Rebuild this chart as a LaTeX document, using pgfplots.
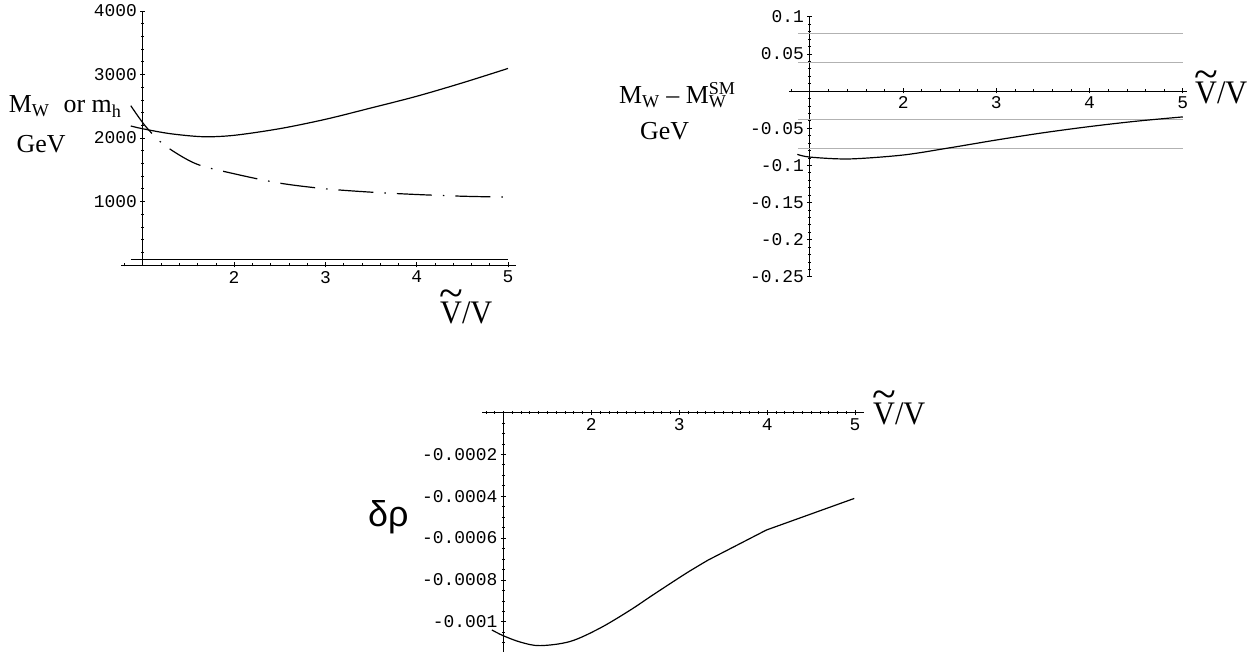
\documentclass[border=0pt]{standalone}
\usepackage{fontspec}
\setmainfont{Liberation Serif}
\setsansfont{Liberation Sans}
\setmonofont{Liberation Mono}
\usepackage{pgfplots}
\pgfplotsset{compat=1.18}

% V with a wide tilde on top, slightly narrowed like the original
\newcommand{\vt}{\leavevmode\rlap{\raisebox{0.47em}{\makebox[0.722em]{\scalebox{1.45}[1.3]{\textasciitilde}}}}V}
\newcommand{\ratio}{\scalebox{0.92}[1]{\fontsize{33}{36}\selectfont\vt/V}}
\newcommand{\lab}{\fontsize{26}{30}\selectfont}

\pgfplotsset{
  mma/.style={
    scale only axis, anchor=south west,
    axis lines=middle,
    axis line style={-, line width=0.9bp},
    enlargelimits=false, clip=false,
    scaled ticks=false,
    x coord trafo/.code={\pgfmathparse{##1-1}},
    x coord inv trafo/.code={\pgfmathparse{##1+1}},
    xtick={2,3,4,5}, xticklabels={2,3,4,5},
    tick label style={font=\fontsize{18}{18}\ttfamily},
    tick align=center,
    major tick length=5bp, minor tick length=3bp,
    every tick/.style={black, line width=0.6bp},
    every axis plot/.append style={black, line width=1.2bp},
  },
}

\begin{document}
\begin{tikzpicture}
\path[use as bounding box] (0,0) rectangle (1257bp,658bp);

% top left: M_W and m_h
\begin{axis}[mma,
  at={(121.1bp,393bp)}, width=395.1bp, height=254bp,
  xmin=0.762, xmax=5.09, ymin=0, ymax=4000,
  ytick={1000,2000,3000,4000}, yticklabels={1000,2000,3000,4000},
  minor xtick={0.8,1.2,1.4,...,4.9},
  minor ytick={200,400,...,3800},
]
\addplot[smooth] coordinates {
  (0.868,2189) (1.0,2145) (1.3,2068) (1.66,2020) (2.0,2042) (2.5,2147)
  (3.0,2294) (3.5,2473) (4.0,2657) (4.5,2868) (5.0,3095)
};
\addplot[smooth, dash pattern=on 35bp off 11bp on 1.5bp off 11bp] coordinates {
  (0.868,2509) (1.03,2184) (1.24,1884) (1.58,1595) (2.0,1437) (2.5,1289)
  (3.0,1200) (3.5,1147) (4.0,1110) (4.5,1083) (5.0,1068)
};
\addplot[sharp plot, line width=1bp] coordinates {(0.87,80) (5.0,80)};
\end{axis}

% top right: M_W - M_W^SM
\begin{axis}[mma,
  at={(789.4bp,381.3bp)}, width=397.1bp, height=260bp,
  xmin=0.78, xmax=5.04, ymin=-0.25, ymax=0.1,
  ytick={-0.25,-0.2,-0.15,-0.1,-0.05,0.05,0.1},
  yticklabels={-0.25,-0.2,-0.15,-0.1,-0.05,0.05,0.1},
  minor xtick={0.8,1.2,1.4,...,4.9},
  minor ytick={-0.24,-0.23,...,0.095},
]
\addplot[sharp plot, black!30, line width=1bp] coordinates {(0.87,0.078) (5.0,0.078)};
\addplot[sharp plot, black!30, line width=1bp] coordinates {(0.87,0.039) (5.0,0.039)};
\addplot[sharp plot, black!30, line width=1bp] coordinates {(0.87,-0.039) (5.0,-0.039)};
\addplot[sharp plot, black!30, line width=1bp] coordinates {(0.87,-0.078) (5.0,-0.078)};
\addplot[smooth] coordinates {
  (0.865,-0.0853) (1.0,-0.0890) (1.42,-0.0915) (2.0,-0.0862) (2.5,-0.0765)
  (3.0,-0.0660) (3.5,-0.0563) (4.0,-0.0479) (4.5,-0.0407) (5.0,-0.0349)
};
\end{axis}

% bottom: delta rho
\begin{axis}[mma,
  at={(482.3bp,6.3bp)}, width=381.6bp, height=239.3bp,
  xmin=0.76, xmax=5.1, ymin=-0.001143, ymax=0,
  ytick={-0.001,-0.0008,-0.0006,-0.0004,-0.0002},
  yticklabels={-0.001,-0.0008,-0.0006,-0.0004,-0.0002},
  minor xtick={0.8,0.9,...,5.05},
  minor ytick={-0.0011,-0.00105,-0.00095,-0.0009,-0.00085,-0.00075,-0.0007,-0.00065,
    -0.00055,-0.0005,-0.00045,-0.00035,-0.0003,-0.00025,-0.00015,-0.0001,-0.00005},
]
\addplot[smooth, tension=0.55] coordinates {
  (0.868,-0.001039) (1.0,-0.001067) (1.2,-0.001098) (1.417,-0.001114)
  (1.76,-0.001094) (2.10,-0.001030) (2.44,-0.000945) (2.70,-0.000872)
  (3.08,-0.000768) (3.33,-0.000705)
};
\addplot[sharp plot] coordinates {(3.33,-0.000705) (3.99,-0.000562) (4.99,-0.000411)};
\end{axis}

% axis titles
\node[anchor=base west, inner sep=0pt, font=\lab] at (8.6bp,545bp)
  {M\textsubscript{W}\hspace{0.55em}or m\textsubscript{h}};
\node[anchor=base west, inner sep=0pt, font=\lab] at (16.5bp,505bp) {GeV};
\node[anchor=base west, inner sep=0pt] at (440bp,334.7bp) {\ratio};

\node[anchor=base west, inner sep=0pt, font=\lab] at (619bp,554bp)
  {M\textsubscript{W} -- M\rlap{\textsubscript{W}}\textsuperscript{SM}};
\node[anchor=base west, inner sep=0pt, font=\lab] at (640bp,518bp) {GeV};
\node[anchor=base west, inner sep=0pt] at (1195bp,554bp) {\ratio};

\node[anchor=base west, inner sep=0pt, font=\fontsize{36}{40}\sffamily] at (368bp,131.3bp) {δρ};
\node[anchor=base west, inner sep=0pt] at (873bp,233.7bp) {\ratio};
\end{tikzpicture}
\end{document}
